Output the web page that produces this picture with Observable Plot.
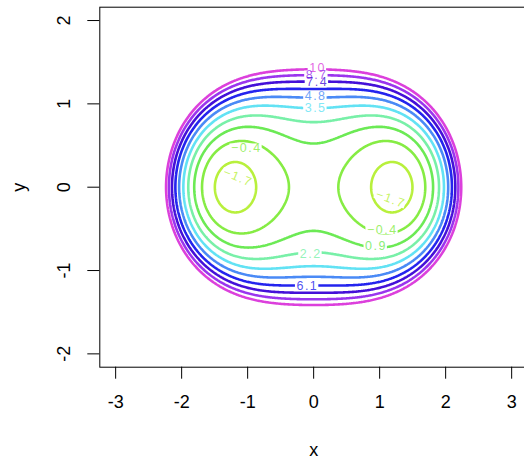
<!DOCTYPE html>
<html>
<head>
<meta charset="utf-8">
<script src="https://cdn.jsdelivr.net/npm/d3@7"></script>
<script src="https://cdn.jsdelivr.net/npm/@observablehq/plot@0.6"></script>
<style>
  html, body { margin: 0; padding: 0; background: #fff; overflow: hidden; }
  #chart svg { display: block; }
  #chart g[aria-label="text"] text { letter-spacing: 1.5px; }
</style>
</head>
<body>
<div id="chart"></div>
<script>
// contour levels and their colours
const levels = [-1.7, -0.4, 0.9, 2.2, 3.5, 4.8, 6.1, 7.4, 8.7, 10];
const colors = ["#b8f03c", "#86ec44", "#6cea55", "#78f0a8", "#62e2f4", "#4a8af6", "#2424ee", "#4410d8", "#9a35ee", "#dc40dc"];

// axis ticks
const xTicks = [-3, -2, -1, 0, 1, 2, 3];
const yTicks = [-2, -1, 0, 1, 2];

// sampled extent of the surface (beyond the visible frame, clipped)
const gridX = [-4.5, 4.5];
const gridY = [-3.2, 3.2];

// surface z = c0*(x^2+y^2)^2 - c1*(x^2 - y^2)  (Cassini-oval family)
const coef = [1, 3];

// contour labels (level, position in data units, angle)
const labelLevel = [10, 8.7, 7.4, 4.8, 3.5, 6.1, 2.2, 0.9, -0.4, -0.4, -1.7, -1.7];
const labelX     = [0.06, 0.045, 0.053, 0.03, 0.03, -0.095, -0.045, 0.944, 1.04, -1.02, -1.147, 1.167];
const labelY     = [1.436, 1.346, 1.268, 1.094, 0.956, -1.184, -0.80, -0.703, -0.511, 0.471, 0.118, -0.142];
const labelAngle = [0, 0, 0, 0, 0, 0, 0, 0, 0, 0, 22, 20];

const surface = (x, y) => {
  const r2 = x * x + y * y;
  return coef[0] * r2 * r2 - coef[1] * (x * x - y * y);
};
const fmt = v => String(v).replace("-", "\u2212");
const idx = d3.range(labelLevel.length);
const labelFont = 12.5;

const chart = Plot.plot({
  width: 524,
  height: 460,
  marginLeft: 99.3,
  marginRight: -3,
  marginTop: 6.7,
  marginBottom: 93.3,
  style: {fontFamily: "'Liberation Sans', Arial, Helvetica, sans-serif", background: "#fff", color: "#000"},
  x: {domain: [-3.24, 3.24]},
  y: {domain: [-2.16, 2.16]},
  color: {type: "ordinal", domain: levels, range: colors},
  marks: [
    Plot.contour({
      value: surface,
      x1: gridX[0], x2: gridX[1], y1: gridY[0], y2: gridY[1],
      thresholds: levels,
      stroke: "value",
      fill: "none",
      strokeWidth: 2.6,
      pixelSize: 1,
      clip: true
    }),
    // gap layer (turned into white boxes below)
    Plot.text(idx, {
      x: i => labelX[i], y: i => labelY[i], text: i => fmt(labelLevel[i]),
      rotate: i => labelAngle[i],
      fill: "white", fontSize: labelFont
    }),
    Plot.text(idx, {
      x: i => labelX[i], y: i => labelY[i], text: i => fmt(labelLevel[i]),
      rotate: i => labelAngle[i],
      fill: i => labelLevel[i], fillOpacity: 0.8, fontSize: labelFont
    }),
    Plot.frame({stroke: "black", strokeWidth: 1}),
    Plot.axisX({
      ticks: xTicks, tickSize: 12, tickPadding: 16, fontSize: 18,
      tickFormat: d => String(d),
      label: "x", labelAnchor: "center", labelArrow: "none", labelOffset: 89
    }),
    Plot.axisY({
      ticks: yTicks, tickSize: 12, tickPadding: 17.5, tickRotate: -90, fontSize: 18,
      tickFormat: d => String(d),
      label: "y", labelAnchor: "center", labelArrow: "none", labelOffset: 88
    })
  ]
});
document.getElementById("chart").append(chart);

// replace the gap-layer glyphs by white boxes the size of each label (line breaks like R)
const gapLayer = chart.querySelectorAll('g[aria-label="text"]')[0];
if (gapLayer) {
  gapLayer.querySelectorAll("text").forEach(t => {
    const bb = t.getBBox();
    const h = 9;
    const r = document.createElementNS("http://www.w3.org/2000/svg", "rect");
    r.setAttribute("x", bb.x - 1.5);
    r.setAttribute("width", bb.width + 1.5);
    r.setAttribute("y", bb.y + bb.height / 2 - h / 2);
    r.setAttribute("height", h);
    r.setAttribute("fill", "white");
    const tr = t.getAttribute("transform");
    if (tr) r.setAttribute("transform", tr);
    t.parentNode.insertBefore(r, t);
    t.remove();
  });
}
</script>
</body>
</html>
